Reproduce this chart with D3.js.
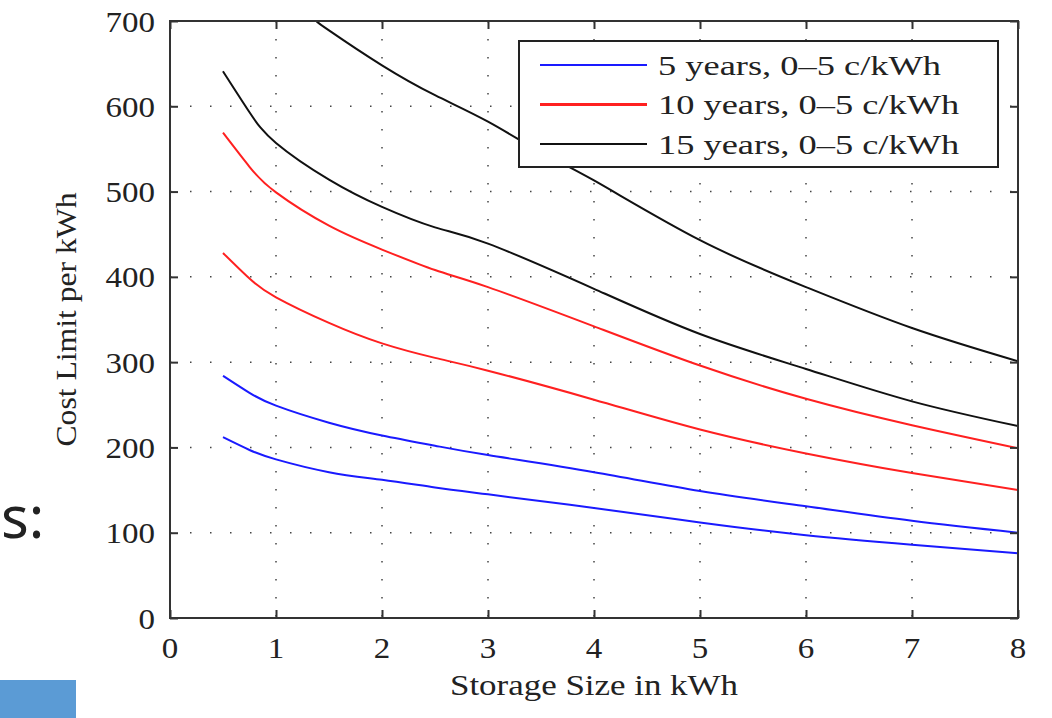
<!DOCTYPE html>
<html>
<head>
<meta charset="utf-8">
<script src="https://cdn.jsdelivr.net/npm/d3@7"></script>
<style>
  body { margin: 0; background: #fff; }
  svg { display: block; }
  .tick-label { font-family: "Liberation Serif", "Times New Roman", serif; font-size: 30px; fill: #222; }
  .axis-title { font-family: "Liberation Serif", "Times New Roman", serif; font-size: 30px; fill: #222; }
  .legend-text { font-family: "Liberation Serif", "Times New Roman", serif; font-size: 28px; fill: #222; }
</style>
</head>
<body>
<div id="chart"></div>
<script>
// values (storage size in kWh -> cost limit per kWh)
const storageX = [0.5, 0.75, 1, 1.5, 2, 2.5, 3, 4, 5, 6, 7, 8];
const blue5Low   = [212, 197, 186, 171, 162, 153, 145, 129, 112, 97, 86, 76];
const blue5High  = [284, 264, 249, 229, 214, 202, 191, 171, 149, 131, 114, 100];
const red10Low   = [428, 398, 376, 346, 322, 305, 290, 256, 221, 193, 170, 150];
const red10High  = [569, 529, 499, 460, 432, 408, 388, 342, 296, 257, 226, 199];
const black15Low = [641, 593, 557, 514, 482, 458, 439, 386, 333, 292, 254, 225];
const black15HighX = [1.38, 1.5, 2, 2.5, 3, 3.5, 4, 5, 6, 7, 8];
const black15High  = [700, 689, 648, 613, 582, 546, 513, 443, 388, 340, 301];

const xTicks = [0, 1, 2, 3, 4, 5, 6, 7, 8];
const yTicks = [0, 100, 200, 300, 400, 500, 600, 700];
const legendLabels = ["5 years, 0\u20135 c/kWh", "10 years, 0\u20135 c/kWh", "15 years, 0\u20135 c/kWh"];
const legendColors = ["#1a1aff", "#ff2020", "#111"];

const series = [
    { xs: storageX, ys: blue5Low, color: legendColors[0] },
    { xs: storageX, ys: blue5High, color: legendColors[0] },
    { xs: storageX, ys: red10Low, color: legendColors[1] },
    { xs: storageX, ys: red10High, color: legendColors[1] },
    { xs: storageX, ys: black15Low, color: legendColors[2] },
    { xs: black15HighX, ys: black15High, color: legendColors[2] }
];

// the source figure is a little stretched sideways, so widen the glyphs to match
function widen(sel, factor) {
    sel.each(function() {
        const w = this.getComputedTextLength();
        d3.select(this)
            .attr("textLength", w * factor)
            .attr("lengthAdjust", "spacingAndGlyphs");
    });
}

function drawChart() {
    const W = 1052, H = 718;
    const margin = { top: 21, right: 34, bottom: 100, left: 170 };
    const width = W - margin.left - margin.right;
    const height = H - margin.top - margin.bottom;

    const svg = d3.select("#chart").append("svg")
        .attr("width", W)
        .attr("height", H);

    // slide leftovers around the figure
    svg.append("text")
        .attr("x", 1)
        .attr("y", 538)
        .style("font-family", "'Noto Sans', 'Open Sans', sans-serif")
        .style("font-size", "58px")
        .style("fill", "#222")
        .text("s:");
    svg.append("rect")
        .attr("x", 0).attr("y", 680)
        .attr("width", 76).attr("height", 38)
        .attr("fill", "#5b9bd5");

    const g = svg.append("g")
        .attr("transform", `translate(${margin.left},${margin.top})`);

    const x = d3.scaleLinear().domain([0, 8]).range([0, width]);
    const y = d3.scaleLinear().domain([0, 700]).range([height, 0]);

    // dotted grid
    g.append("g").selectAll("line")
        .data(xTicks.slice(1, -1))
        .enter().append("line")
        .attr("x1", d => x(d)).attr("x2", d => x(d))
        .attr("y1", 0).attr("y2", height)
        .attr("stroke", "#444").attr("stroke-width", 1.5)
        .attr("stroke-dasharray", "1.5,16.5");
    g.append("g").selectAll("line")
        .data(yTicks.slice(1, -1))
        .enter().append("line")
        .attr("x1", 0).attr("x2", width)
        .attr("y1", d => y(d)).attr("y2", d => y(d))
        .attr("stroke", "#444").attr("stroke-width", 1.5)
        .attr("stroke-dasharray", "1.5,18.5");

    // curves
    g.append("clipPath").attr("id", "plot-clip")
        .append("rect").attr("width", width).attr("height", height);

    const line = d3.line()
        .x(d => x(d[0]))
        .y(d => y(d[1]))
        .curve(d3.curveNatural);

    g.append("g").attr("clip-path", "url(#plot-clip)")
        .selectAll("path")
        .data(series)
        .enter().append("path")
        .attr("d", s => line(s.xs.map((v, i) => [v, s.ys[i]])))
        .attr("fill", "none")
        .attr("stroke", s => s.color)
        .attr("stroke-width", 2);

    // frame with inward ticks on all sides
    const axisStyle = sel => {
        sel.select(".domain").remove();
        sel.selectAll(".tick line").attr("stroke", "#333").attr("stroke-width", 2);
        sel.selectAll(".tick text").remove();
    };
    g.append("g").attr("transform", `translate(0,${height})`)
        .call(d3.axisBottom(x).tickValues(xTicks).tickSize(-8)).call(axisStyle);
    g.append("g")
        .call(d3.axisTop(x).tickValues(xTicks).tickSize(-8)).call(axisStyle);
    g.append("g")
        .call(d3.axisLeft(y).tickValues(yTicks).tickSize(-8)).call(axisStyle);
    g.append("g").attr("transform", `translate(${width},0)`)
        .call(d3.axisRight(y).tickValues(yTicks).tickSize(-8)).call(axisStyle);

    g.append("rect")
        .attr("width", width).attr("height", height)
        .attr("fill", "none").attr("stroke", "#333").attr("stroke-width", 2);

    // tick labels
    g.selectAll(".xlab")
        .data(xTicks)
        .enter().append("text")
        .attr("class", "tick-label xlab")
        .attr("x", d => x(d))
        .attr("y", height + 40)
        .attr("text-anchor", "middle")
        .text(d => d)
        .call(widen, 1.1);
    g.selectAll(".ylab")
        .data(yTicks)
        .enter().append("text")
        .attr("class", "tick-label ylab")
        .attr("x", -15)
        .attr("y", d => y(d))
        .attr("dy", "0.35em")
        .attr("text-anchor", "end")
        .text(d => d)
        .call(widen, 1.1);

    // axis titles
    g.append("text")
        .attr("class", "axis-title")
        .attr("x", width / 2)
        .attr("y", height + 77)
        .attr("text-anchor", "middle")
        .attr("textLength", 288)
        .attr("lengthAdjust", "spacingAndGlyphs")
        .text("Storage Size in kWh");
    g.append("text")
        .attr("class", "axis-title")
        .attr("transform", `translate(${-94},${height / 2}) rotate(-90)`)
        .attr("text-anchor", "middle")
        .attr("textLength", 254)
        .attr("lengthAdjust", "spacingAndGlyphs")
        .text("Cost Limit per kWh");

    // legend
    const lg = svg.append("g").attr("transform", "translate(519,41)");
    lg.append("rect")
        .attr("width", 479).attr("height", 126)
        .attr("fill", "#fff").attr("stroke", "#222").attr("stroke-width", 2);
    const item = lg.selectAll(".legend")
        .data(legendLabels)
        .enter().append("g")
        .attr("class", "legend")
        .attr("transform", (d, i) => `translate(0,${24 + i * 39.5})`);
    item.append("line")
        .attr("x1", 21).attr("x2", 128)
        .attr("stroke", (d, i) => legendColors[i])
        .attr("stroke-width", (d, i) => i === 1 ? 3 : 2);
    item.append("text")
        .attr("class", "legend-text")
        .attr("x", 139)
        .attr("dy", "0.35em")
        .text(d => d)
        .call(widen, 1.3);
}

drawChart();
</script>
</body>
</html>
